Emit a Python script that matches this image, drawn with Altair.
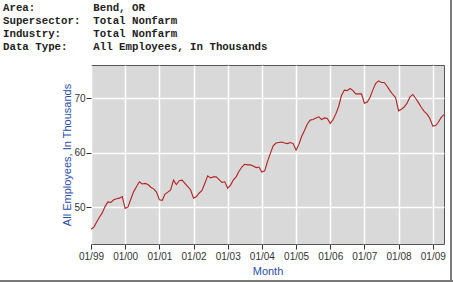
import altair as alt
import pandas as pd

# ---- data (thousands of employees, monthly) ----
v1999 = [46.0, 46.4, 47.3, 48.2, 49.0, 50.2, 51.0, 50.9, 51.4, 51.6, 51.7, 52.0]
v2000 = [49.8, 50.1, 51.5, 52.9, 53.8, 54.7, 54.3, 54.4, 54.2, 53.7, 53.4, 52.8]
v2001 = [51.4, 51.3, 52.4, 52.8, 53.2, 55.0, 54.2, 54.9, 55.0, 54.4, 53.8, 53.2]
v2002 = [51.7, 52.0, 52.6, 53.1, 54.4, 55.8, 55.4, 55.6, 55.6, 55.1, 54.6, 54.7]
v2003 = [53.5, 54.1, 55.0, 55.6, 56.6, 57.4, 57.9, 57.8, 57.8, 57.6, 57.3, 57.4]
v2004 = [56.5, 56.7, 58.4, 59.9, 61.3, 61.8, 61.9, 62.0, 61.8, 61.7, 61.9, 61.7]
v2005 = [60.5, 61.6, 63.0, 64.1, 65.3, 66.0, 66.1, 66.4, 66.6, 66.1, 66.4, 66.3]
v2006 = [65.4, 66.1, 67.1, 68.5, 70.5, 71.5, 71.4, 71.8, 71.4, 70.8, 70.8, 70.8]
v2007 = [69.1, 69.3, 70.1, 71.5, 72.7, 73.2, 72.9, 72.9, 72.2, 71.4, 70.7, 70.1]
v2008 = [67.7, 68.0, 68.4, 69.1, 70.2, 70.7, 70.0, 69.2, 68.3, 67.6, 67.1, 66.3]
v2009 = [64.9, 65.0, 65.6, 66.5, 67.0]

years = [1999, 2000, 2001, 2002, 2003, 2004, 2005, 2006, 2007, 2008, 2009]
series = [v1999, v2000, v2001, v2002, v2003, v2004, v2005, v2006, v2007, v2008, v2009]

header_labels = ["Area:", "Supersector:", "Industry:", "Data Type:"]
header_values = ["Bend, OR", "Total Nonfarm", "Total Nonfarm", "All Employees, In Thousands"]

rows = []
for yr, vals in zip(years, series):
    for i, v in enumerate(vals):
        rows.append({"month": f"{yr}-{i + 1:02d}-01", "value": v})
df = pd.DataFrame(rows)

NBSP = "\u00a0"
header_lines = [lab + NBSP * (14 - len(lab)) + val for lab, val in zip(header_labels, header_values)]

AX_FONT = "Liberation Sans"
BLUE = "#2A4DA8"

line = alt.Chart(df).mark_line(color="#B22222", strokeWidth=1.1).encode(
    x=alt.X(
        "month:T",
        scale=alt.Scale(type="utc"),
        axis=alt.Axis(
            title="Month",
            format="%m/%y",
            tickCount="year",
            grid=True,
            gridColor="white",
            gridWidth=1.5,
            domain=False,
            ticks=True,
            tickColor="#333333",
            tickSize=5,
            labelFont=AX_FONT,
            labelFontSize=10,
            labelColor="#333333",
            labelPadding=2,
            labelFlush=False,
            labelOverlap=False,
            titleFont=AX_FONT,
            titleFontSize=11,
            titleFontWeight="normal",
            titleColor=BLUE,
            titlePadding=4,
        ),
    ),
    y=alt.Y(
        "value:Q",
        scale=alt.Scale(domain=[43.3, 76.1], nice=False, zero=False),
        axis=alt.Axis(
            title="All Employees, In Thousands",
            values=[50, 60, 70],
            grid=True,
            gridColor="white",
            gridWidth=1.5,
            domain=False,
            ticks=True,
            tickColor="#333333",
            tickSize=5,
            labelFont=AX_FONT,
            labelFontSize=10,
            labelColor="#333333",
            labelPadding=1,
            titleFont=AX_FONT,
            titleFontSize=11,
            titleFontWeight="normal",
            titleColor=BLUE,
            titlePadding=1,
        ),
    ),
)

shadow_b = alt.Chart(df).mark_rule(color="#7a7a7a", strokeWidth=2).encode(
    x=alt.value(-91), x2=alt.value(362), y=alt.value(216)
)
shadow_r = alt.Chart(df).mark_rule(color="#7a7a7a", strokeWidth=2).encode(
    x=alt.value(360), y=alt.value(-65), y2=alt.value(217)
)

chart = alt.layer(line, shadow_b, shadow_r).properties(
    width=353,
    height=179,
    autosize=alt.AutoSizeParams(type="none"),
    padding={"left": 91, "top": 65, "right": 9, "bottom": 39},
    background="white",
    title=alt.TitleParams(
        text=header_lines,
        anchor="start",
        frame="group",
        font="Liberation Mono",
        fontSize=10.75,
        fontWeight="bold",
        color="#222222",
        lineHeight=13,
        dx=-88,
        dy=66,
        offset=12,
    ),
).configure_view(
    fill="#D9D9D9",
    stroke="#555555",
    strokeWidth=1,
)

chart.save("out.html", embed_options={"renderer": "svg", "actions": False})
